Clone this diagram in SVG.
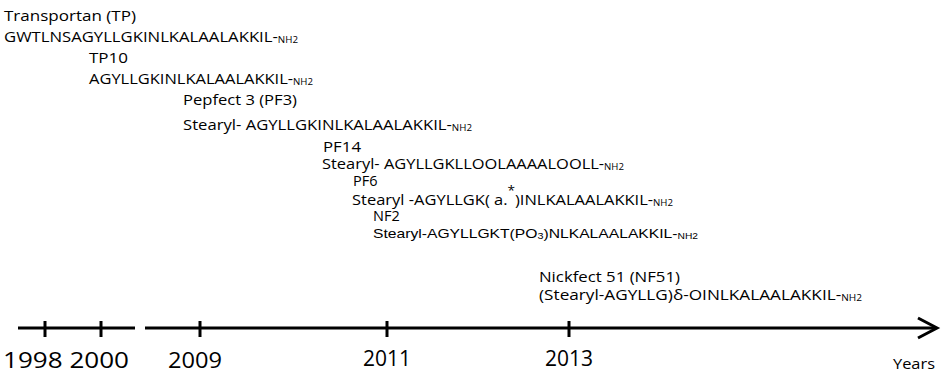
<svg xmlns="http://www.w3.org/2000/svg" width="945" height="373" viewBox="0 0 945 373">
<style>
text{font-family:"Open Sans","Liberation Sans",sans-serif;fill:#000}
.t{font-size:14.5px}
.s{font-size:14.5px}
.a{font-family:"Liberation Sans",Arial,sans-serif;font-size:13px}
.nh{font-size:8.5px}
.yr{font-size:22px}
.yl{font-size:15px}
.ax{stroke:#000;stroke-width:3;fill:none}
</style>
<rect width="945" height="373" fill="#fff"/>
<g id="tp">
<text class="t" x="4" y="21" textLength="132" lengthAdjust="spacingAndGlyphs">Transportan (TP)</text>
<text class="s" x="4" y="42" textLength="294" lengthAdjust="spacingAndGlyphs">GWTLNSAGYLLGKINLKALAALAKKIL-<tspan class="nh" dy="1">NH2</tspan></text>
</g>
<g id="tp10">
<text class="t" x="89" y="63" textLength="39" lengthAdjust="spacingAndGlyphs">TP10</text>
<text class="s" x="89" y="84" textLength="224" lengthAdjust="spacingAndGlyphs">AGYLLGKINLKALAALAKKIL-<tspan class="nh" dy="1">NH2</tspan></text>
</g>
<g id="pf3">
<text class="t" x="183" y="105" textLength="114" lengthAdjust="spacingAndGlyphs">Pepfect 3 (PF3)</text>
<text class="s" x="183" y="130" textLength="289" lengthAdjust="spacingAndGlyphs">Stearyl- AGYLLGKINLKALAALAKKIL-<tspan class="nh" dy="1">NH2</tspan></text>
</g>
<g id="pf14">
<text class="t" x="323" y="152" textLength="38" lengthAdjust="spacingAndGlyphs">PF14</text>
<text class="s" x="322" y="169" textLength="302" lengthAdjust="spacingAndGlyphs">Stearyl- AGYLLGKLLOOLAAAALOOLL-<tspan class="nh" dy="1">NH2</tspan></text>
</g>
<g id="pf6">
<text class="t" x="353" y="186">PF6</text>
<text class="s" x="352" y="205" textLength="321" lengthAdjust="spacingAndGlyphs">Stearyl -AGYLLGK( a.<tspan font-size="12" dy="-10">*</tspan><tspan dy="10">)INLKALAALAKKIL-</tspan><tspan class="nh" dy="1">NH2</tspan></text>
</g>
<g id="nf2">
<text class="t" x="373" y="221">NF2</text>
<text class="a" x="373" y="238" textLength="325" lengthAdjust="spacingAndGlyphs">Stearyl-AGYLLGKT(PO<tspan font-size="9" dy="1">3</tspan><tspan dy="-1">)NLKALAALAKKIL-</tspan><tspan class="nh" dy="1">NH2</tspan></text>
</g>
<g id="nf51">
<text class="t" x="539" y="282" textLength="141" lengthAdjust="spacingAndGlyphs">Nickfect 51 (NF51)</text>
<text class="s" x="539" y="300" textLength="323" lengthAdjust="spacingAndGlyphs">(Stearyl-AGYLLG)δ-OINLKALAALAKKIL-<tspan class="nh" dy="1">NH2</tspan></text>
</g>
<g id="timeline">
<line class="ax" x1="18" y1="328" x2="135" y2="328"/>
<line class="ax" x1="145" y1="328" x2="936" y2="328"/>
<polyline class="ax" points="918,318 937,328 918,338"/>
<line class="ax" x1="45" y1="321" x2="45" y2="337"/>
<line class="ax" x1="101" y1="321" x2="101" y2="337"/>
<line class="ax" x1="200" y1="321" x2="200" y2="337"/>
<line class="ax" x1="387" y1="321" x2="387" y2="337"/>
<line class="ax" x1="569" y1="321" x2="569" y2="337"/>
</g>
<g id="years">
<text class="yr" x="3" y="368" textLength="126" lengthAdjust="spacingAndGlyphs">1998 2000</text>
<text class="yr" x="168" y="368" textLength="54" lengthAdjust="spacingAndGlyphs">2009</text>
<text class="yr" x="363" y="366" textLength="48" lengthAdjust="spacingAndGlyphs">2011</text>
<text class="yr" x="545" y="366" textLength="48" lengthAdjust="spacingAndGlyphs">2013</text>
<text class="yl" x="893" y="369" textLength="42" lengthAdjust="spacingAndGlyphs">Years</text>
</g>
</svg>
